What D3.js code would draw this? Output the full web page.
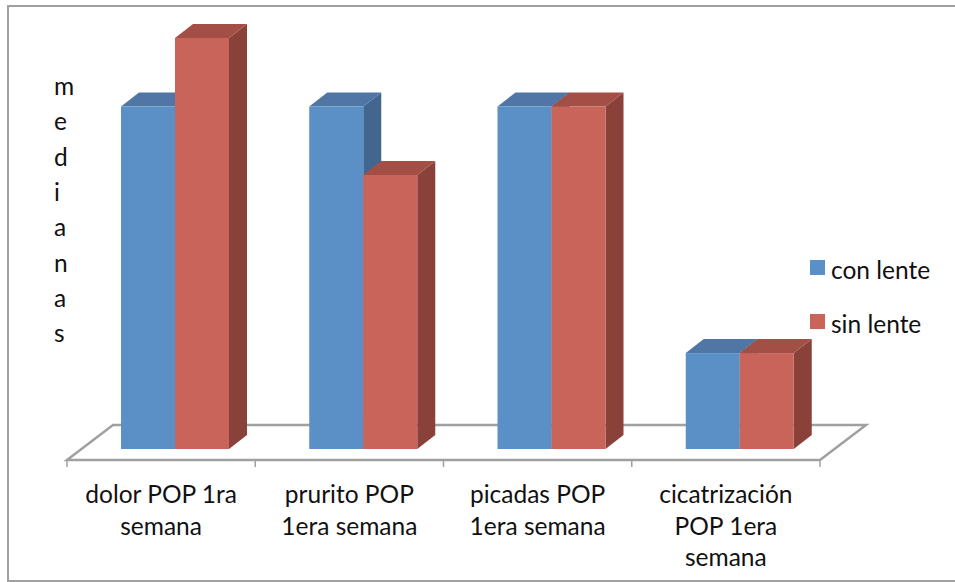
<!DOCTYPE html>
<html lang="es">
    <head>
        <meta charset="utf-8">
        <title>medianas</title>
        <script src="https://d3js.org/d3.v7.min.js"></script>
        <style>
            html, body { margin: 0; padding: 0; background: #fff; overflow: hidden; }
            svg { display: block; }
            text { font-family: Lato, "Open Sans", sans-serif; font-size: 24.5px; fill: #111; }
        </style>
    </head>
    <body>
        <div class="chart"></div>
        <script type="text/javascript">
            // data
            var categories = ["dolor POP 1ra\nsemana", "prurito POP\n1era semana", "picadas POP\n1era semana", "cicatrización\nPOP 1era\nsemana"];
            var seriesNames = ["con lente", "sin lente"];
            var conLente = [5, 5, 5, 1.4];
            var sinLente = [6, 4, 5, 1.4];
            var yTitle = "medianas";

            var w = 955, h = 582;
            var depthX = 18, depthY = 14;     // oblique offset of the bars
            var floorX = 46, floorY = 35;     // oblique offset of the floor
            var colors = [
                {front: "#5b90c6", top: "#4f76a4", side: "#436690"},
                {front: "#c9645b", top: "#a44f46", side: "#8a4139"}
            ];
            var line = "#a0a0a0";

            var svg = d3.select("div.chart").append("svg")
                .attr("width", w)
                .attr("height", h);

            // chart frame, right side runs off the picture
            svg.append("rect")
                .attr("x", 8).attr("y", 6)
                .attr("width", w).attr("height", 575)
                .attr("fill", "#fff")
                .attr("stroke", line)
                .attr("stroke-width", 2);

            var x = d3.scaleBand().domain(d3.range(categories.length)).range([67, 820]);
            var x1 = d3.scaleBand().domain([0, 1]).range([54, 162]);
            var y = d3.scaleLinear().domain([0, 6]).range([449, 38]);

            // floor
            var x0 = x.range()[0], xN = x.range()[1], yF = 460;
            svg.append("path")
                .attr("d", "M" + x0 + "," + yF + "L" + (x0 + floorX) + "," + (yF - floorY) +
                    "L" + (xN + floorX) + "," + (yF - floorY) + "L" + xN + "," + yF + "Z")
                .attr("fill", "#fff")
                .attr("stroke", line)
                .attr("stroke-width", 2.5)
                .attr("stroke-linejoin", "miter");

            // ticks sit on the band edges
            svg.selectAll("line.tick")
                .data(d3.range(categories.length + 1))
                .enter().append("line")
                .attr("class", "tick")
                .attr("x1", function(d) { return x0 + d * x.step(); })
                .attr("x2", function(d) { return x0 + d * x.step(); })
                .attr("y1", yF)
                .attr("y2", yF + 7)
                .attr("stroke", line)
                .attr("stroke-width", 1.5);

            // bars: blue first so the red one overlaps it
            var bars = [];
            categories.forEach(function(c, i) {
                bars.push({cat: i, s: 0, v: conLente[i]});
                bars.push({cat: i, s: 1, v: sinLente[i]});
            });

            var g = svg.selectAll("g.bar")
                .data(bars)
                .enter().append("g")
                .attr("class", "bar");

            function box(d) {
                var l = x(d.cat) + x1(d.s);
                return {l: l, r: l + x1.bandwidth(), t: y(d.v), b: y(0)};
            }

            g.append("path")
                .attr("fill", function(d) { return colors[d.s].side; })
                .attr("d", function(d) {
                    var b = box(d);
                    return "M" + b.r + "," + b.t + "l" + depthX + "," + (-depthY) +
                        "V" + (b.b - depthY) + "L" + b.r + "," + b.b + "Z";
                });
            g.append("path")
                .attr("fill", function(d) { return colors[d.s].top; })
                .attr("d", function(d) {
                    var b = box(d);
                    return "M" + b.l + "," + b.t + "l" + depthX + "," + (-depthY) +
                        "H" + (b.r + depthX) + "L" + b.r + "," + b.t + "Z";
                });
            g.append("rect")
                .attr("fill", function(d) { return colors[d.s].front; })
                .attr("x", function(d) { return box(d).l; })
                .attr("y", function(d) { return box(d).t; })
                .attr("width", x1.bandwidth())
                .attr("height", function(d) { return y(0) - y(d.v); });

            // category labels
            var labels = svg.selectAll("text.cat")
                .data(categories)
                .enter().append("text")
                .attr("class", "cat")
                .attr("text-anchor", "middle");
            labels.selectAll("tspan")
                .data(function(d, i) {
                    return d.split("\n").map(function(t) { return {t: t, i: i}; });
                })
                .enter().append("tspan")
                .attr("x", function(d) { return x(d.i) + x.bandwidth() / 2; })
                .attr("y", function(d, j) { return 503 + j * 31.5; })
                .text(function(d) { return d.t; });

            // y title, one letter per row, left aligned
            svg.selectAll("text.ytitle")
                .data(yTitle.split(""))
                .enter().append("text")
                .attr("class", "ytitle")
                .attr("x", 54)
                .attr("y", function(d, i) { return 95 + i * 35.3; })
                .text(function(d) { return d; });

            // legend
            var legend = svg.selectAll("g.legend")
                .data(seriesNames)
                .enter().append("g")
                .attr("class", "legend")
                .attr("transform", function(d, i) { return "translate(810," + (260 + i * 54) + ")"; });
            legend.append("rect")
                .attr("width", 15)
                .attr("height", 15)
                .attr("fill", function(d, i) { return colors[i].front; });
            legend.append("text")
                .attr("x", 21)
                .attr("y", 19)
                .text(function(d) { return d; });
        </script>
    </body>
</html>
